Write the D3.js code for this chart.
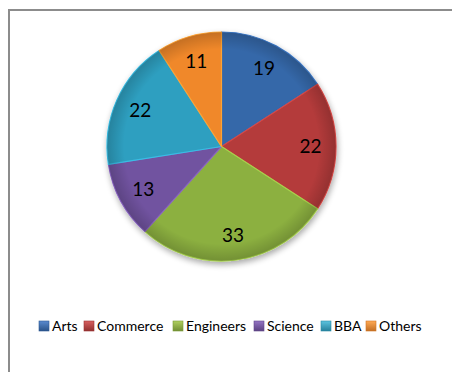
<!DOCTYPE html>
<html><head><meta charset="utf-8">
<script src="https://cdn.jsdelivr.net/npm/d3@7"></script>
<style>body{margin:0;background:#fff}svg{display:block}</style>
</head><body>
<svg id="c" width="452" height="372"></svg>
<script>
const categories = ["Arts","Commerce","Engineers","Science","BBA","Others"];
const values = [19,22,33,13,22,11];
const colors = ["#3467A9","#B43B3A","#8CB040","#7152A0","#2F9FC0","#F0882B"];
const lights = ["#5A8BD0","#D86060","#B0D060","#9474C4","#5CC4E0","#FFAA55"];

const svg = d3.select("#c");
const W = 452, H = 372;
const cx = 221.5, cy = 146.5, R = 114.5;

// frame
svg.append("rect").attr("x",9).attr("y",10).attr("width",460).attr("height",380)
  .attr("fill","#fff").attr("stroke","#8c8c8c").attr("stroke-width",2);

const defs = svg.append("defs");
const sh = defs.append("filter").attr("id","sh").attr("x","-20%").attr("y","-20%").attr("width","140%").attr("height","140%");
sh.append("feGaussianBlur").attr("in","SourceAlpha").attr("stdDeviation",3);
sh.append("feOffset").attr("dx",1).attr("dy",3).attr("result","b");
sh.append("feComponentTransfer").append("feFuncA").attr("type","linear").attr("slope",0.35);
const m = sh.append("feMerge"); m.append("feMergeNode"); m.append("feMergeNode").attr("in","SourceGraphic");

categories.forEach((c,i)=>{
  const g = defs.append("linearGradient").attr("id","lg"+i).attr("x1",0).attr("y1",0).attr("x2",0).attr("y2",1);
  g.append("stop").attr("offset","0%").attr("stop-color",lights[i]);
  g.append("stop").attr("offset","100%").attr("stop-color",d3.color(colors[i]).darker(0.6));
});

const pie = d3.pie().sort(null).value(d=>d)(values);
const arc = d3.arc().innerRadius(0).outerRadius(R);
const labelArc = d3.arc().innerRadius(89).outerRadius(89);

const gp = svg.append("g").attr("transform",`translate(${cx},${cy})`);
const slices = gp.append("g").attr("filter","url(#sh)");
slices.selectAll("path").data(pie).join("path")
  .attr("d",arc).attr("fill",(d,i)=>colors[i])
  .attr("stroke",(d,i)=>d3.color(colors[i]).brighter(0.5)).attr("stroke-width",1.2).attr("stroke-linejoin","round");

// subtle bevel overlay
const rg = defs.append("radialGradient").attr("id","bev").attr("cx","50%").attr("cy","50%").attr("r","50%");
rg.append("stop").attr("offset","85%").attr("stop-color","#000").attr("stop-opacity",0);
rg.append("stop").attr("offset","100%").attr("stop-color","#000").attr("stop-opacity",0.18);
gp.append("circle").attr("r",R).attr("fill","url(#bev)");

gp.selectAll("text").data(pie).join("text")
  .attr("transform",d=>`translate(${labelArc.centroid(d)})`)
  .attr("text-anchor","middle").attr("dy","0.36em")
  .attr("font-family","Lato, 'Open Sans', sans-serif").attr("font-size",19)
  .attr("fill","#000").text(d=>d.data);

// legend
const xs = d3.scalePoint().domain(categories).range([0,1]);
const lg = svg.append("g").attr("transform","translate(0,326)");
const positions = [39,84,173,254,321,366];
const items = lg.selectAll("g").data(categories).join("g")
  .attr("transform",(d,i)=>`translate(${positions[i]},0)`);
items.append("rect").attr("x",0).attr("y",-5).attr("width",10).attr("height",10)
  .attr("fill",(d,i)=>`url(#lg${i})`).attr("stroke",(d,i)=>d3.color(colors[i]).darker(0.4)).attr("stroke-width",0.6);
items.append("text").attr("x",13).attr("y",0).attr("dy","0.36em")
  .attr("font-family","Lato, 'Open Sans', sans-serif").attr("font-size",14).attr("fill","#000").text(d=>d);
</script>
</body></html>
